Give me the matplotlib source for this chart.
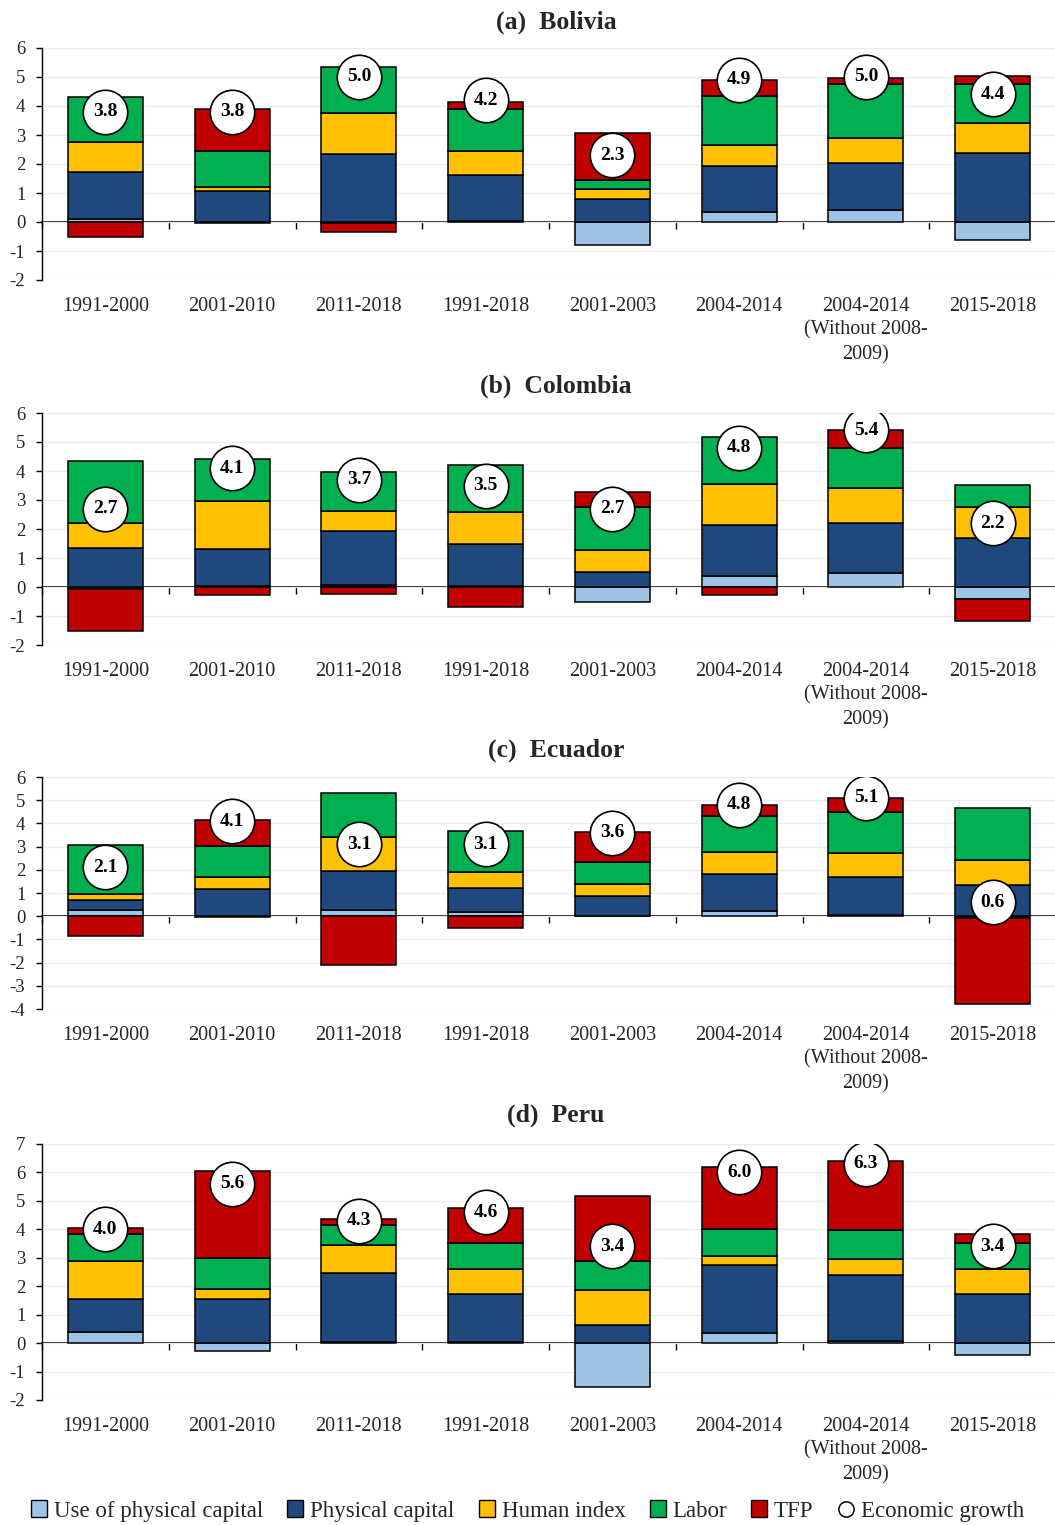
import numpy as np
import matplotlib
matplotlib.use("Agg")
import matplotlib.pyplot as plt
from matplotlib.patches import Patch
from matplotlib.lines import Line2D

plt.rcParams['font.family'] = ['Liberation Serif', 'DejaVu Serif']
plt.rcParams['axes.unicode_minus'] = False

categories = ["1991-2000", "2001-2010", "2011-2018", "1991-2018", "2001-2003",
              "2004-2014", "2004-2014\n(Without 2008-\n2009)", "2015-2018"]
components = ["Use of physical capital", "Physical capital", "Human index", "Labor", "TFP"]

# Bolivia
bol_use = [0.12, -0.05, -0.02, 0.02, -0.78, 0.33, 0.42, -0.62]
bol_phys = [1.60, 1.06, 2.34, 1.61, 0.78, 1.61, 1.61, 2.39]
bol_human = [1.04, 0.15, 1.43, 0.82, 0.35, 0.70, 0.87, 1.01]
bol_labor = [1.56, 1.25, 1.57, 1.45, 0.31, 1.70, 1.86, 1.36]
bol_tfp = [-0.52, 1.45, -0.33, 0.25, 1.64, 0.56, 0.19, 0.26]
bol_growth = [3.8, 3.8, 5.0, 4.2, 2.3, 4.9, 5.0, 4.4]

# Colombia
col_use = [-0.08, 0.03, 0.06, 0.02, -0.52, 0.37, 0.47, -0.43]
col_phys = [1.35, 1.27, 1.87, 1.46, 0.52, 1.76, 1.74, 1.70]
col_human = [0.84, 1.68, 0.70, 1.09, 0.75, 1.42, 1.19, 1.07]
col_labor = [2.14, 1.43, 1.35, 1.64, 1.50, 1.61, 1.38, 0.74]
col_tfp = [-1.42, -0.27, -0.23, -0.69, 0.49, -0.29, 0.62, -0.75]
col_growth = [2.7, 4.1, 3.7, 3.5, 2.7, 4.8, 5.4, 2.2]

# Ecuador
ecu_use = [0.25, -0.02, 0.28, 0.20, 0.02, 0.21, 0.05, -0.08]
ecu_phys = [0.43, 1.17, 1.68, 1.03, 0.87, 1.61, 1.63, 1.33]
ecu_human = [0.28, 0.52, 1.44, 0.69, 0.51, 0.93, 1.06, 1.08]
ecu_labor = [2.09, 1.35, 1.90, 1.77, 0.92, 1.58, 1.74, 2.25]
ecu_tfp = [-0.84, 1.09, -2.09, -0.49, 1.29, 0.46, 0.60, -3.69]
ecu_growth = [2.1, 4.1, 3.1, 3.1, 3.6, 4.8, 5.1, 0.6]

# Peru
per_use = [0.39, -0.28, 0.05, 0.05, -1.53, 0.35, 0.09, -0.41]
per_phys = [1.15, 1.56, 2.42, 1.69, 0.62, 2.39, 2.32, 1.72]
per_human = [1.34, 0.33, 0.98, 0.86, 1.26, 0.32, 0.55, 0.90]
per_labor = [0.94, 1.11, 0.70, 0.93, 1.01, 0.94, 1.02, 0.91]
per_tfp = [0.23, 3.06, 0.20, 1.22, 2.29, 2.18, 2.43, 0.31]
per_growth = [4.0, 5.6, 4.3, 4.6, 3.4, 6.0, 6.3, 3.4]

colors = ["#9DC3E6", "#1F497D", "#FFC000", "#00B050", "#C00000"]

panels = [
    ("(a)  Bolivia", [bol_use, bol_phys, bol_human, bol_labor, bol_tfp], bol_growth, (-2, 6)),
    ("(b)  Colombia", [col_use, col_phys, col_human, col_labor, col_tfp], col_growth, (-2, 6)),
    ("(c)  Ecuador", [ecu_use, ecu_phys, ecu_human, ecu_labor, ecu_tfp], ecu_growth, (-4, 6)),
    ("(d)  Peru", [per_use, per_phys, per_human, per_labor, per_tfp], per_growth, (-2, 7)),
]

W, H = 1055, 1525
fig = plt.figure(figsize=(W / 100, H / 100), dpi=100)

# axes extents in pixels: (top, bottom)
boxes = [(48, 280), (413, 645), (777, 1009), (1144, 1400)]
title_y = [22, 386, 750, 1115]
left_px, right_px = 42, 1056

text_color = "#262626"
x = np.arange(len(categories))

for (title, series, growth, (ymin, ymax)), (top, bot), ty in zip(panels, boxes, title_y):
    ax = fig.add_axes([left_px / W, 1 - bot / H, (right_px - left_px) / W, (bot - top) / H])
    pos_base = np.zeros(len(categories))
    neg_base = np.zeros(len(categories))
    for vals, c in zip(series, colors):
        v = np.asarray(vals, dtype=float)
        base = np.where(v >= 0, pos_base, neg_base)
        ax.bar(x, v, bottom=base, width=0.59, color=c, edgecolor="black",
               linewidth=1.1, zorder=3)
        pos_base = pos_base + np.where(v >= 0, v, 0)
        neg_base = neg_base + np.where(v < 0, v, 0)

    ax.plot(x, growth, linestyle="none", marker="o", markersize=32,
            markerfacecolor="white", markeredgecolor="black", markeredgewidth=1.2, zorder=5)
    for xi, g in zip(x, growth):
        ax.text(xi, g, f"{g:.1f}", ha="center", va="center", fontsize=14,
                fontweight="bold", color="black", zorder=6)

    ax.set_xlim(-0.5, len(categories) - 0.5)
    ax.set_ylim(ymin, ymax)
    ax.set_yticks(np.arange(ymin, ymax + 1, 1))
    ax.yaxis.grid(True, color="#EBEBEB", linewidth=0.9, zorder=0)
    ax.set_axisbelow(True)
    for s in ("top", "right", "bottom"):
        ax.spines[s].set_visible(False)
    ax.spines["left"].set_linewidth(1.0)
    ax.tick_params(axis="y", direction="out", length=4, width=1.0, pad=8,
                   labelsize=13.5, labelcolor=text_color)
    ax.set_xticks(x)
    ax.set_xticklabels(categories, fontsize=14.5, color=text_color, linespacing=1.35)
    ax.tick_params(axis="x", length=0, pad=12)

    # zero line with separators between periods
    zero_loc = (0 - ymin) / (ymax - ymin)
    sec = ax.secondary_xaxis(zero_loc)
    sec.set_xticks(np.arange(-0.5, len(categories), 1.0))
    sec.set_xticklabels([])
    sec.tick_params(direction="out", length=5, width=1.0)
    sec.spines["bottom"].set_linewidth(1.2)
    sec.spines["bottom"].set_zorder(4)

    fig.text(556 / W, 1 - ty / H, title, ha="center", va="center",
             fontsize=18.5, fontweight="bold", color=text_color)

handles = [Patch(facecolor=c, edgecolor="black", linewidth=1.0) for c in colors]
handles.append(Line2D([], [], linestyle="none", marker="o", markersize=11,
                      markerfacecolor="white", markeredgecolor="black", markeredgewidth=1.1))
labels = components + ["Economic growth"]
fig.legend(handles, labels, loc="center", bbox_to_anchor=(0.5, 1 - 1511 / H), ncol=6,
           frameon=False, fontsize=16.5, handlelength=0.7, handleheight=0.7,
           handletextpad=0.3, columnspacing=1.05, labelcolor=text_color)

fig.savefig("out.png", dpi=100)
